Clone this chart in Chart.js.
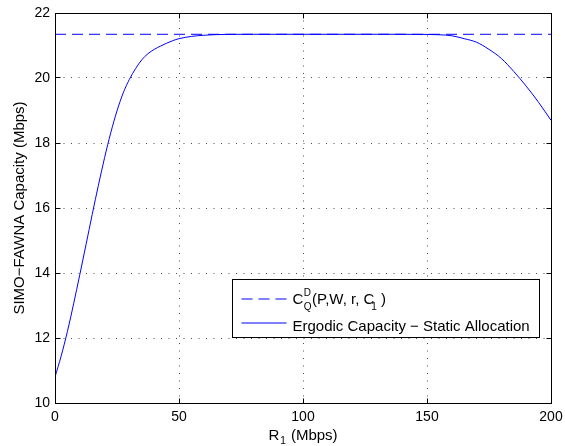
<!DOCTYPE html>
<html>
<head>
<meta charset="utf-8">
<script src="https://cdn.jsdelivr.net/npm/chart.js@4.4.0/dist/chart.umd.min.js"></script>
<style>
  html, body { margin: 0; padding: 0; background: #fff; }
</style>
</head>
<body>
<canvas id="capacityChart" width="565" height="446"></canvas>
<script>
// values
const rateMbps = [0, 2.5, 5, 7.5, 10, 12.5, 15, 17.5, 20, 22.5, 25, 27.5, 30, 32.5, 35, 37.5, 40, 42.5, 45, 47.5, 50, 55, 60, 65, 70,
  80, 90, 100, 110, 120, 130, 140, 150, 155, 160, 165, 170, 175, 180, 185, 190, 195, 200];
const ergodicCapacity = [10.8, 11.45, 12.2, 13.05, 13.95, 14.87, 15.8, 16.7, 17.55, 18.32, 18.99, 19.54, 19.96, 20.29, 20.56, 20.75, 20.88, 20.98, 21.07, 21.15, 21.21, 21.28, 21.315, 21.335, 21.343,
  21.345, 21.345, 21.345, 21.345, 21.345, 21.345, 21.345, 21.34, 21.33, 21.3, 21.21, 21.1, 20.88, 20.6, 20.2, 19.75, 19.25, 18.7];
const boundRate = [0, 200];
const boundCapacity = [21.345, 21.345];
const xTicks = [0, 50, 100, 150, 200];
const yTicks = [10, 12, 14, 16, 18, 20, 22];

const FONT = "'Liberation Sans', Arial, Helvetica, sans-serif";
const BLUE = "#0000ff";

const toPoints = (xs, ys) => xs.map((x, i) => ({ x: x, y: ys[i] }));

// box, inside ticks, axis titles and legend in the matlab look
const matlabFrame = {
  id: "matlabFrame",
  afterDraw(chart) {
    const { ctx, chartArea: a, scales } = chart;
    const px = (v) => Math.round(v + 0.5) - 0.5;
    const L = px(a.left), R = px(a.right), T = px(a.top), B = px(a.bottom);
    ctx.save();
    ctx.strokeStyle = "#000";
    ctx.lineWidth = 1;
    ctx.setLineDash([]);
    ctx.beginPath();
    ctx.moveTo(L, T); ctx.lineTo(R, T); ctx.lineTo(R, B); ctx.lineTo(L, B); ctx.closePath();
    // tick marks pointing inside, on all four sides
    xTicks.forEach((v) => {
      const x = px(scales.x.getPixelForValue(v));
      ctx.moveTo(x, B); ctx.lineTo(x, B - 5);
      ctx.moveTo(x, T); ctx.lineTo(x, T + 5);
    });
    yTicks.forEach((v) => {
      const y = px(scales.y.getPixelForValue(v));
      ctx.moveTo(L, y); ctx.lineTo(L + 5, y);
      ctx.moveTo(R, y); ctx.lineTo(R - 5, y);
    });
    ctx.stroke();

    ctx.fillStyle = "#000";
    ctx.textBaseline = "alphabetic";
    ctx.textAlign = "left";

    // x title: R_1 (Mbps)
    const big = "15px " + FONT, small = "10px " + FONT;
    ctx.font = big;
    const wR = ctx.measureText("R").width;
    const wRest = ctx.measureText(" (Mbps)").width;
    ctx.font = small;
    const w1 = ctx.measureText("1").width;
    let tx = (a.left + a.right) / 2 - (wR + w1 + 2 + wRest) / 2;
    const ty = a.bottom + 37;
    ctx.font = big;
    ctx.fillText("R", tx, ty);
    ctx.font = small;
    ctx.fillText("1", tx + wR + 1, ty + 4);
    ctx.font = big;
    ctx.fillText(" (Mbps)", tx + wR + w1 + 2, ty);

    // y title
    ctx.save();
    ctx.translate(24, (a.top + a.bottom) / 2);
    ctx.rotate(-Math.PI / 2);
    ctx.textAlign = "center";
    ctx.font = big;
    ctx.fillText("SIMO\u2212FAWNA Capacity (Mbps)", 0, 0);
    ctx.restore();

    // legend box
    const bl = px(a.right - 319), br = px(a.right - 12);
    const bt = px(a.bottom - 124), bb = px(a.bottom - 66);
    ctx.fillStyle = "#fff";
    ctx.fillRect(bl, bt, br - bl, bb - bt);
    ctx.strokeStyle = "#000";
    ctx.strokeRect(bl, bt, br - bl, bb - bt);

    const lx0 = bl + 9, lx1 = bl + 54, textX = bl + 60;
    const row1 = bt + 19.5, row2 = bt + 43.5;
    ctx.strokeStyle = BLUE;
    ctx.setLineDash([11, 6]);
    ctx.beginPath(); ctx.moveTo(lx0, row1); ctx.lineTo(lx1, row1); ctx.stroke();
    ctx.setLineDash([]);
    ctx.beginPath(); ctx.moveTo(lx0, row2); ctx.lineTo(lx1, row2); ctx.stroke();

    ctx.fillStyle = "#000";
    // C^D_Q(P,W, r, C_1)
    const base1 = bt + 24.5;
    let cx = textX;
    ctx.font = big;
    ctx.fillText("C", cx, base1);
    cx += ctx.measureText("C").width + 0.5;
    ctx.font = small;
    ctx.fillText("D", cx, base1 - 8);
    ctx.fillText("Q", cx, base1 + 6);
    cx += ctx.measureText("Q").width + 0.5;
    ctx.font = big;
    const args = "(P,W, r, C";
    ctx.fillText(args, cx, base1);
    cx += ctx.measureText(args).width;
    ctx.font = small;
    ctx.fillText("1", cx - 3, base1 + 6);
    cx += ctx.measureText("1").width + 1;
    ctx.font = big;
    ctx.fillText(")", cx, base1);

    ctx.fillText("Ergodic Capacity \u2212 Static Allocation", textX, bt + 51);
    ctx.restore();
  }
};

new Chart(document.getElementById("capacityChart"), {
  type: "line",
  data: {
    datasets: [
      {
        label: "bound",
        data: toPoints(boundRate, boundCapacity),
        borderColor: BLUE,
        borderWidth: 1,
        borderDash: [11, 6],
        pointRadius: 0,
        fill: false,
      },
      {
        label: "Ergodic Capacity - Static Allocation",
        data: toPoints(rateMbps, ergodicCapacity),
        borderColor: BLUE,
        borderWidth: 1,
        pointRadius: 0,
        cubicInterpolationMode: "monotone",
        fill: false,
      },
    ],
  },
  options: {
    responsive: false,
    animation: false,
    devicePixelRatio: 1,
    layout: { padding: { left: 0, top: 13, right: 14, bottom: 0 } },
    plugins: { legend: { display: false }, tooltip: { enabled: false } },
    scales: {
      x: {
        type: "linear",
        min: 0,
        max: 200,
        afterBuildTicks: (s) => { s.ticks = xTicks.map((v) => ({ value: v })); },
        afterFit: (s) => { s.height = 43; s.paddingLeft = 0; s.paddingRight = 0; },
        grid: { color: "rgba(0,0,0,0.7)", drawTicks: false, lineWidth: 1 },
        border: { display: true, color: "#000", width: 1, dash: [1, 6.5] },
        ticks: { color: "#000", padding: 6, maxRotation: 0, font: { family: FONT, size: 14 } },
      },
      y: {
        type: "linear",
        min: 10,
        max: 22,
        afterBuildTicks: (s) => { s.ticks = yTicks.map((v) => ({ value: v })); },
        afterFit: (s) => { s.width = 55; s.paddingTop = 0; s.paddingBottom = 0; },
        grid: { color: "rgba(0,0,0,0.7)", drawTicks: false, lineWidth: 1 },
        border: { display: true, color: "#000", width: 1, dash: [1, 6.5] },
        ticks: { color: "#000", padding: 5, font: { family: FONT, size: 14 } },
      },
    },
  },
  plugins: [matlabFrame],
});
</script>
</body>
</html>
